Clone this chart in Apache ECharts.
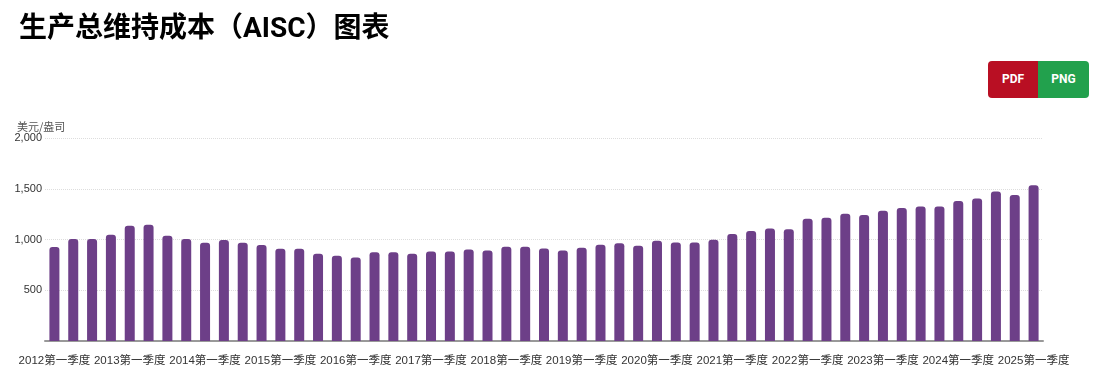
<!DOCTYPE html>
<html><head><meta charset="utf-8">
<script src="https://cdn.jsdelivr.net/npm/echarts@6/dist/echarts.min.js"></script>
<style>
html,body{margin:0;padding:0;background:#fff;}
#c{width:1107px;height:381px;}
.btns{position:absolute;left:988px;top:61px;display:flex;font-family:Roboto,"Noto Sans",sans-serif;}
.btns div{width:50px;height:37px;line-height:37px;text-align:center;color:#fff;font-weight:bold;font-size:12px;}
.pdf{background:#b90f23;border-radius:4px 0 0 4px;}
.png{background:#22a14d;border-radius:0 4px 4px 0;width:51px!important;}
</style></head>
<body>
<div id="c"></div>
<div class="btns"><div class="pdf">PDF</div><div class="png">PNG</div></div>
<script>
const titleText = '生产总维持成本（AISC）图表';
const unitLabel = '美元/盎司';
const years = [2012,2013,2014,2015,2016,2017,2018,2019,2020,2021,2022,2023,2024,2025];
const quarters = ['第一季度','第二季度','第三季度','第四季度'];
const categories = [];
years.forEach(y => quarters.forEach(q => { if (categories.length < 53) categories.push(y + q); }));
const aiscValues = [
  925, 1004, 1004, 1046, 1135, 1145, 1036, 1004,
  967, 994, 967, 945, 908, 908, 859, 839,
  823, 875, 875, 859, 882, 882, 902, 892,
  928, 928, 912, 892, 918, 948, 964, 938,
  987, 971, 971, 997, 1053, 1083, 1109, 1102,
  1204, 1214, 1254, 1241, 1283, 1310, 1326, 1326,
  1379, 1405, 1474, 1438, 1534
];
const chart = echarts.init(document.getElementById('c'));
chart.setOption({
  animation: false,
  title: {
    text: titleText, left: 14, top: 11,
    textStyle: {fontFamily: 'Roboto, "Noto Sans CJK SC"', fontWeight: 'bold', fontSize: 28, color: '#000'}
  },
  grid: {left: 45, right: 64, top: 138, bottom: 40},
  xAxis: {
    type: 'category', data: categories,
    axisLine: {lineStyle: {color: '#999', width: 2}},
    axisTick: {show: false},
    axisLabel: {
      interval: 3, color: '#333', fontSize: 11.5, margin: 14,
      fontFamily: '"Liberation Sans", "Noto Sans CJK SC", sans-serif',
      formatter: v => v.slice(0,4) + '第一季度'
    }
  },
  yAxis: {
    type: 'value', min: 0, max: 2000, interval: 500,
    name: unitLabel, nameLocation: 'end', nameGap: 6,
    nameTextStyle: {color: '#555', fontSize: 11, align: 'left', padding: [0,0,0,-28], fontFamily: '"Noto Sans CJK SC", sans-serif'},
    axisLine: {show: false}, axisTick: {show: false},
    splitLine: {lineStyle: {color: '#ddd', type: 'dotted'}},
    axisLabel: {
      color: '#333', fontSize: 11, margin: 3,
      fontFamily: '"Liberation Sans", sans-serif',
      formatter: v => v === 0 ? '' : v.toLocaleString('en-US')
    }
  },
  series: [{
    type: 'bar', data: aiscValues, barWidth: 10,
    itemStyle: {color: '#6d3f88', borderRadius: [3,3,0,0]}
  }]
});
</script>
</body></html>
